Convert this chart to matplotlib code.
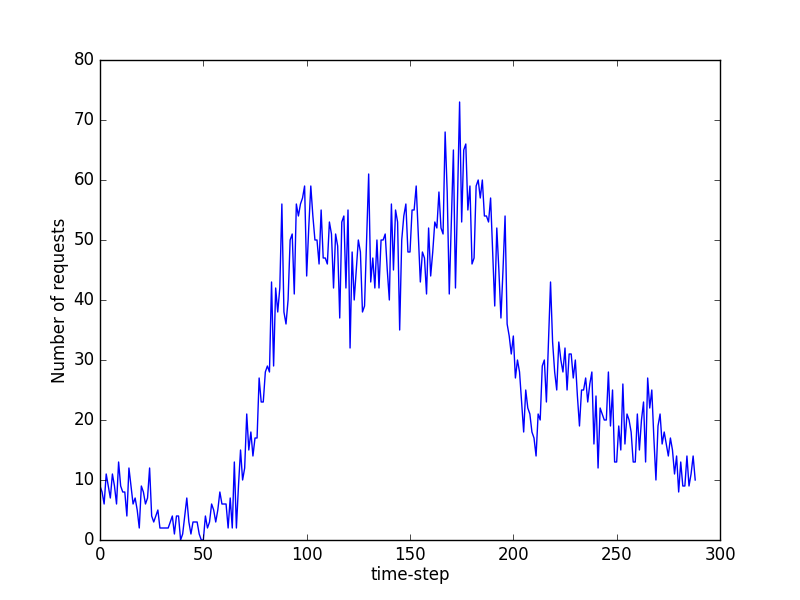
import matplotlib
matplotlib.use("Agg")
import matplotlib.pyplot as plt
import numpy as np

requests = [
    9, 8, 6, 11, 9, 7, 11, 9, 6, 13,
    9, 8, 8, 4, 12, 9, 6, 7, 5, 2,
    9, 8, 6, 7, 12, 4, 3, 4, 5, 2,
    2, 2, 2, 2, 3, 4, 1, 4, 4, 0,
    1, 4, 7, 3, 1, 3, 3, 3, 1, 0,
    0, 4, 2, 3, 6, 5, 3, 5, 8, 6,
    6, 6, 2, 7, 2, 13, 2, 9, 15, 10,
    12, 21, 15, 18, 14, 17, 17, 27, 23, 23,
    28, 29, 28, 43, 29, 42, 38, 42, 56, 38,
    36, 40, 50, 51, 41, 56, 54, 56, 57, 59,
    44, 52, 59, 54, 50, 50, 46, 55, 47, 47,
    46, 53, 51, 42, 51, 49, 37, 53, 54, 42,
    55, 32, 48, 40, 45, 50, 48, 38, 39, 50,
    61, 43, 47, 42, 50, 42, 50, 50, 51, 45,
    40, 56, 45, 55, 53, 35, 50, 54, 56, 48,
    48, 55, 55, 59, 51, 43, 48, 47, 41, 52,
    44, 48, 53, 52, 58, 52, 51, 68, 58, 41,
    53, 65, 42, 57, 73, 53, 65, 66, 55, 59,
    46, 47, 59, 60, 57, 60, 54, 54, 53, 57,
    48, 39, 52, 45, 37, 45, 54, 36, 34, 31,
    34, 27, 30, 28, 23, 18, 25, 22, 21, 18,
    17, 14, 21, 20, 29, 30, 23, 33, 43, 33,
    28, 25, 33, 30, 28, 32, 25, 31, 31, 27,
    30, 24, 19, 25, 25, 27, 23, 26, 28, 16,
    24, 12, 22, 21, 20, 20, 28, 19, 25, 13,
    13, 19, 15, 26, 16, 21, 20, 18, 13, 13,
    21, 15, 20, 23, 13, 27, 22, 25, 17, 10,
    19, 21, 16, 18, 16, 14, 17, 15, 11, 14,
    8, 13, 9, 9, 14, 9, 11, 14, 10,
]
time_steps = list(range(len(requests)))

x_ticks = [0, 50, 100, 150, 200, 250, 300]
y_ticks = [0, 10, 20, 30, 40, 50, 60, 70, 80]

plt.style.use("classic")
fig = plt.figure(figsize=(8, 6), dpi=100, facecolor="white")
ax = fig.add_axes([0.125, 0.1, 0.775, 0.8])
ax.plot(time_steps, requests, color="#0000ff", linewidth=1)
ax.set_xlim(0, 300)
ax.set_ylim(0, 80)
ax.set_xticks(x_ticks)
ax.set_yticks(y_ticks)
ax.set_xlabel("time-step", labelpad=1.5)
ax.set_ylabel("Number of requests", labelpad=3)
fig.savefig("out.png", dpi=100, facecolor="white")
